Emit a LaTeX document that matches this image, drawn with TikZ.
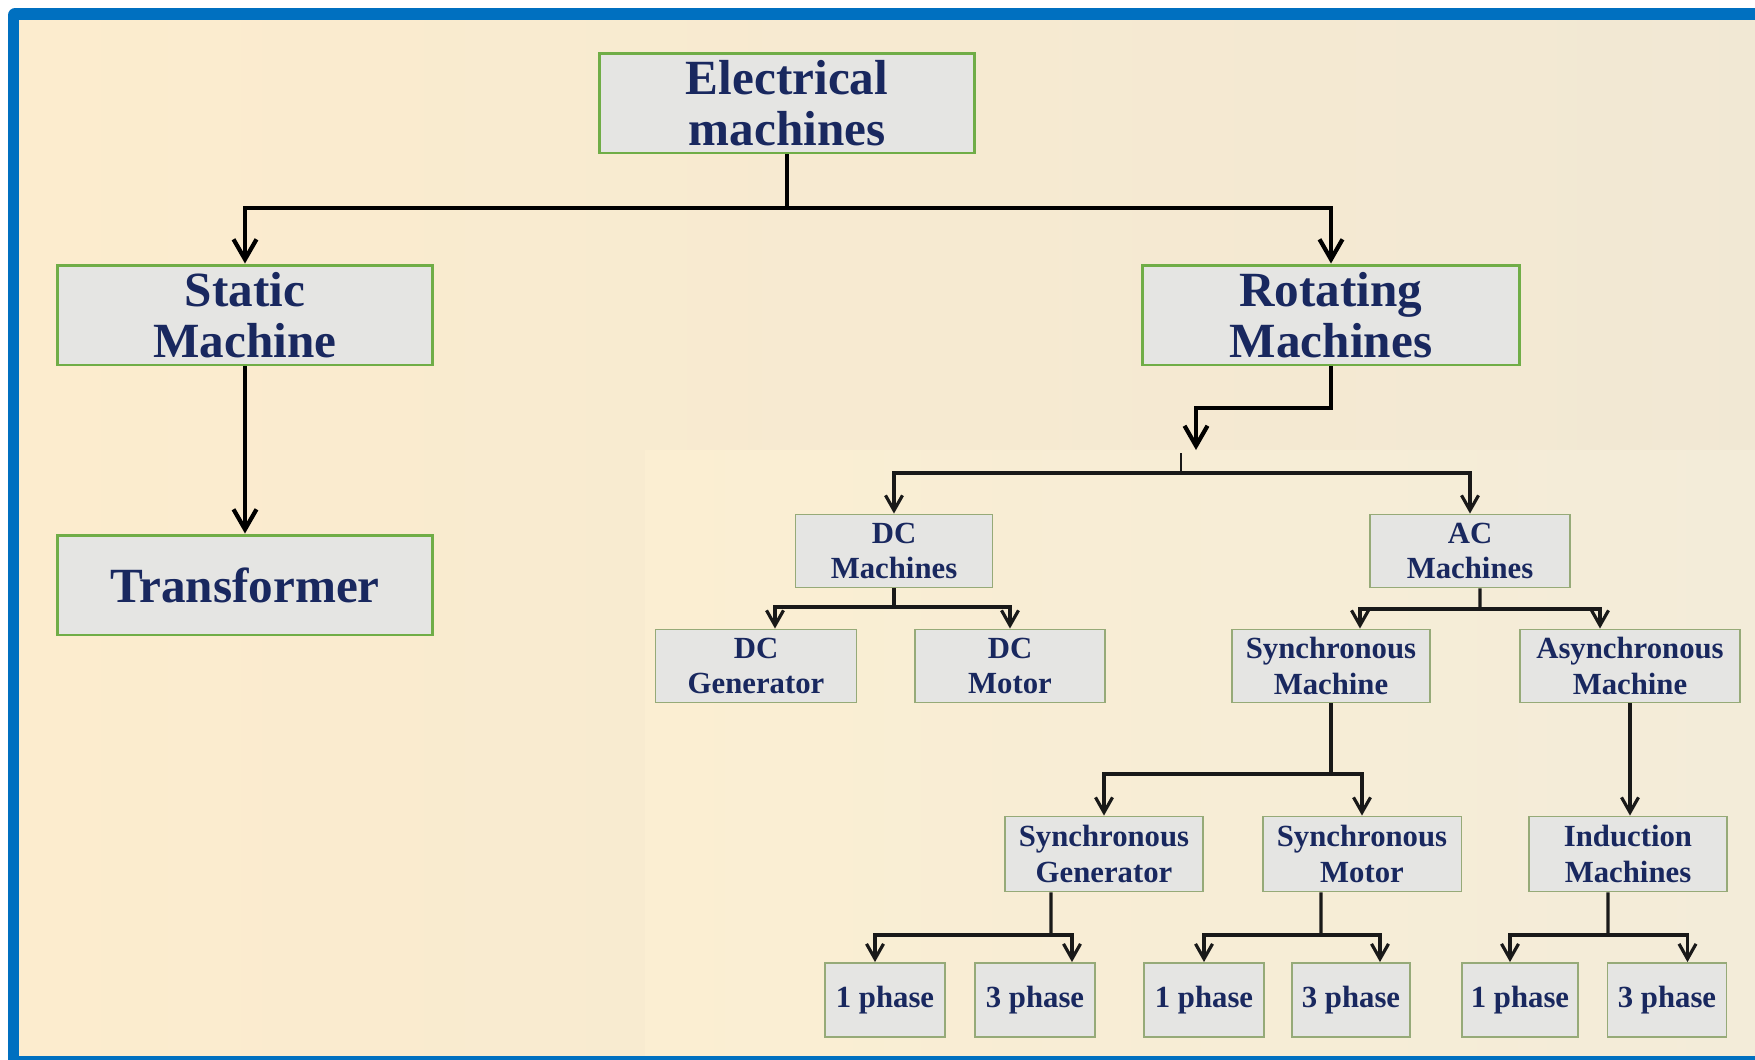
\documentclass[tikz,border=0pt]{standalone}
\usepackage{fontspec}
\setmainfont{Liberation Serif}
\usetikzlibrary{arrows.meta}
\definecolor{frameblue}{RGB}{0,112,192}
\definecolor{creamL}{RGB}{252,236,206}
\definecolor{creamR}{RGB}{241,232,212}
\definecolor{insetL}{RGB}{251,238,210}
\definecolor{insetR}{RGB}{243,236,217}
\definecolor{boxfill}{RGB}{229,229,227}
\definecolor{bigedge}{RGB}{112,173,71}
\definecolor{smalledge}{RGB}{150,170,120}
\definecolor{txt}{RGB}{25,40,95}
\begin{document}
\begin{tikzpicture}[x=0.02cm,y=-0.02cm,
  bigbox/.style={draw=bigedge, line width=1.7pt, fill=boxfill, text=txt,
    font=\fontsize{28}{29}\selectfont\bfseries, align=center, inner sep=0pt,
    minimum width=7.5cm, minimum height=2cm},
  smallbox/.style={draw=smalledge, line width=1.1pt, fill=boxfill, text=txt,
    font=\fontsize{17.5}{20}\selectfont\bfseries, align=center, inner sep=0pt,
    minimum height=1.46cm},
  phasebox/.style={smallbox, minimum height=1.48cm},
  bigline/.style={line width=2.4pt, black},
  bigarr/.style={bigline, -{Straight Barb[length=0.4cm,width=0.46cm]}},
  smline/.style={line width=1.8pt, black!90},
  smarr/.style={smline, -{Straight Barb[length=0.3cm,width=0.34cm]}},
]
\useasboundingbox (0,0) rectangle (1755,1059);
% frame and background
\fill[white] (0,0) rectangle (1755,1059);
\fill[frameblue, rounded corners=4pt] (8,8) rectangle (1800,1100);
\shade[left color=creamL, right color=creamR] (19,20) rectangle (1800,1055);
\shade[left color=insetL, right color=insetR] (645,450) rectangle (1755,1055);

% nodes
\node[bigbox] (em) at (787,103) {Electrical\\machines};
\node[bigbox] (sm) at (245,315) {Static\\Machine};
\node[bigbox] (tr) at (245,585) {Transformer};
\node[bigbox, minimum width=7.54cm] (rm) at (1331,315) {Rotating\\Machines};

\node[smallbox, minimum width=3.94cm] (dcm) at (894,551) {DC\\Machines};
\node[smallbox, minimum width=4cm] (acm) at (1470,551) {AC\\Machines};
\node[smallbox, minimum width=4.02cm] (dcg) at (756,666) {DC\\Generator};
\node[smallbox, minimum width=3.8cm] (dcmo) at (1010,666) {DC\\Motor};
\node[smallbox, minimum width=3.96cm] (syn) at (1331,666) {Synchronous\\Machine};
\node[smallbox, minimum width=4.4cm] (asy) at (1630,666) {Asynchronous\\Machine};
\node[smallbox, minimum width=3.96cm, minimum height=1.5cm] (sg) at (1104,854) {Synchronous\\Generator};
\node[smallbox, minimum width=3.98cm, minimum height=1.5cm] (smo) at (1362,854) {Synchronous\\Motor};
\node[smallbox, minimum width=3.96cm, minimum height=1.5cm] (im) at (1628,854) {Induction\\Machines};

\node[phasebox, minimum width=2.4cm] (p1) at (885,1000) {1 phase};
\node[phasebox, minimum width=2.4cm] (p2) at (1035,1000) {3 phase};
\node[phasebox, minimum width=2.4cm] (p3) at (1204,1000) {1 phase};
\node[phasebox, minimum width=2.36cm] (p4) at (1351,1000) {3 phase};
\node[phasebox, minimum width=2.32cm] (p5) at (1520,1000) {1 phase};
\node[phasebox, minimum width=2.38cm] (p6) at (1667,1000) {3 phase};

% connectors: top level
\coordinate (j1) at (787,208);
\draw[bigline] (em.south) -- (j1);
\draw[bigarr] (j1) -| (sm.north);
\draw[bigarr] (j1) -| (rm.north);
\draw[bigarr] (sm.south) -- (tr.north);

% rotating machines
\coordinate (j2) at (1196,408);
\coordinate (j3) at (1196,450);
\draw[bigarr] (rm.south) |- (j2) -- (j3);
\coordinate (t1) at (1181,453);
\coordinate (j4) at (1181,473);
\draw[smline, line width=1.2pt] (t1) -- (j4);
\draw[smarr] (j4) -| (dcm.north);
\draw[smarr] (j4) -| (acm.north);

% DC machines
\coordinate (j5) at (894,607);
\draw[smline] (dcm.south) -- (j5);
\draw[smarr] (j5) -| ([xshift=0.38cm]dcg.north);
\draw[smarr] (j5) -| (dcmo.north);

% AC machines
\coordinate (j6) at (1480,609);
\draw[smline] ([xshift=0.2cm]acm.south) -- (j6);
\draw[smarr] (j6) -| ([xshift=0.58cm]syn.north);
\draw[smarr] (j6) -| ([xshift=-0.6cm]asy.north);

% synchronous machine
\coordinate (j7) at (1331,774);
\draw[smline] (syn.south) -- (j7);
\draw[smarr] (j7) -| (sg.north);
\draw[smarr] (j7) -| (smo.north);

% asynchronous machine
\draw[smarr] (asy.south) -- (asy.south |- im.north);

% phases
\coordinate (j8) at (1051,935);
\draw[smline] ([xshift=-1.06cm]sg.south) -- (j8);
\draw[smarr] (j8) -| ([xshift=-0.2cm]p1.north);
\draw[smarr] (j8) -| ([xshift=0.74cm]p2.north);

\coordinate (j9) at (1321,935);
\draw[smline] ([xshift=-0.82cm]smo.south) -- (j9);
\draw[smarr] (j9) -| (p3.north);
\draw[smarr] (j9) -| ([xshift=0.58cm]p4.north);

\coordinate (j10) at (1608,935);
\draw[smline] ([xshift=-0.4cm]im.south) -- (j10);
\draw[smarr] (j10) -| ([xshift=-0.2cm]p5.north);
\draw[smarr] (j10) -| ([xshift=0.41cm]p6.north);
\end{tikzpicture}
\end{document}
